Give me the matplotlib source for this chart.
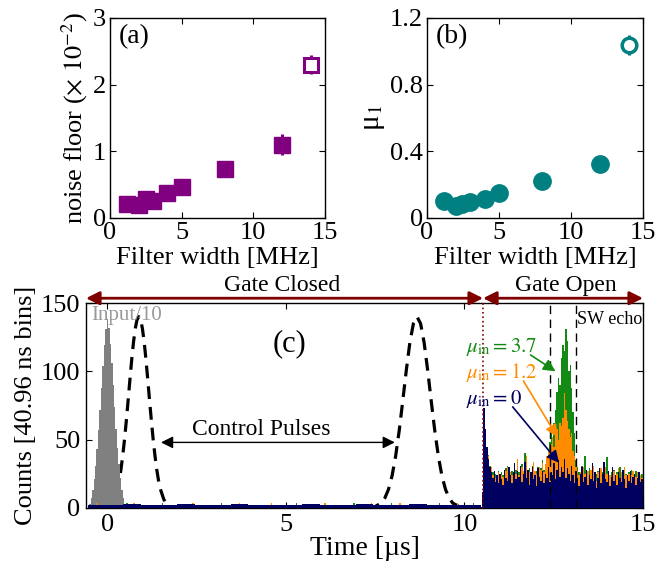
import numpy as np
import matplotlib
matplotlib.use("Agg")
import matplotlib.pyplot as plt

plt.rcParams['font.family'] = ['Liberation Serif', 'DejaVu Serif']
plt.rcParams['mathtext.fontset'] = 'stix'
plt.rcParams['xtick.direction'] = 'in'
plt.rcParams['ytick.direction'] = 'in'
plt.rcParams['xtick.top'] = True
plt.rcParams['ytick.right'] = True

# ---------------- data ----------------
# panel (a)
fw_a = [1.2, 2.0, 2.5, 3.0, 4.0, 5.0, 8.0, 12.0]
noise_a = [0.21, 0.19, 0.28, 0.26, 0.38, 0.46, 0.74, 1.10]
noise_a_err = [0.02, 0.02, 0.02, 0.02, 0.03, 0.03, 0.04, 0.16]
fw_a_open = [14.0]
noise_a_open = [2.30]
noise_a_open_err = [0.14]

# panel (b)
fw_b = [1.2, 2.0, 2.4, 3.0, 4.0, 5.0, 8.0, 12.0]
mu1_b = [0.10, 0.07, 0.085, 0.095, 0.115, 0.153, 0.225, 0.325]
fw_b_open = [14.0]
mu1_b_open = [1.04]
mu1_b_open_err = [0.06]

# panel (c)
bin_w = 0.04096
input_start = -0.512
input_counts = [3, 7, 13, 21, 31, 43, 57, 72, 88, 104, 119, 131, 138, 132,
                120, 106, 90, 74, 58, 44, 32, 22, 13, 7, 3]

pulse1_t = [-0.12, -0.02, 0.08, 0.18, 0.28, 0.33, 0.38, 0.43, 0.48, 0.53, 0.58,
            0.63, 0.68, 0.73, 0.78, 0.83, 0.88, 0.93, 0.98, 1.03, 1.08, 1.13,
            1.18, 1.23, 1.28, 1.33, 1.38, 1.43, 1.48, 1.58, 1.68, 1.78, 1.88]
pulse1_y = [0.2, 0.8, 2.4, 6.2, 14.1, 20.3, 28.4, 38.6, 50.5, 64.1, 78.8,
            93.9, 108.5, 121.3, 131.3, 137.8, 140, 137.8, 131.3, 121.3, 108.5, 93.9,
            78.8, 64.1, 50.5, 38.6, 28.4, 20.3, 14.1, 6.2, 2.4, 0.8, 0.2]
pulse2_t = [7.27, 7.47, 7.67, 7.77, 7.87, 7.97, 8.07, 8.17, 8.27, 8.37, 8.47,
            8.57, 8.67, 8.77, 8.87, 8.97, 9.07, 9.17, 9.27, 9.37, 9.47, 9.57,
            9.67, 9.87, 10.07]
pulse2_y = [0.1, 0.7, 3.6, 7.3, 13.5, 23.3, 37.6, 56.2, 78.0, 100.6, 121.0,
            135.0, 140, 135.0, 121.0, 100.6, 78.0, 56.2, 37.6, 23.3, 13.5, 7.3,
            3.6, 0.7, 0.1]

open_start = 10.445
counts_mu0 = [1, 12, 73, 58, 45, 36, 30, 26, 22, 27,
              19, 24, 18, 25, 21, 17, 28, 22, 20, 30,
              24, 18, 26, 33, 21, 27, 23, 31, 19, 25,
              34, 22, 28, 17, 26, 30, 21, 24, 16, 29,
              23, 20, 27, 18, 25, 22, 30, 19, 26, 24,
              33, 21, 28, 35, 23, 30, 26, 36, 22, 29,
              25, 20, 31, 24, 18, 27, 22, 16, 25, 30,
              19, 23, 28, 17, 24, 21, 33, 20, 26, 15,
              22, 29, 18, 25, 34, 21, 19, 27, 16, 23,
              30, 20, 24, 17, 26, 22, 19, 28, 21, 15,
              24, 20, 27, 18, 23, 25, 17, 22, 26, 19, 21]
counts_mu12 = [0, 10, 65, 55, 42, 38, 28, 30, 24, 25,
               22, 21, 26, 20, 24, 23, 25, 27, 30, 22,
               26, 24, 22, 28, 25, 36, 24, 22, 30, 27,
               23, 38, 24, 26, 22, 28, 34, 27, 25, 24,
               30, 28, 33, 26, 32, 38, 42, 40, 47, 52,
               45, 55, 58, 50, 62, 60, 66, 84, 72, 64,
               58, 52, 55, 42, 38, 30, 27, 24, 26, 22,
               30, 25, 21, 27, 24, 28, 22, 31, 25, 20,
               26, 23, 29, 22, 19, 30, 25, 20, 24, 22,
               21, 27, 23, 25, 29, 20, 26, 22, 30, 24,
               22, 25, 20, 24, 27, 21, 23, 26, 20, 24, 22]
counts_mu37 = [0, 11, 62, 57, 40, 39, 31, 27, 26, 23,
               25, 22, 27, 21, 26, 24, 22, 29, 31, 25,
               23, 27, 25, 30, 28, 24, 26, 23, 32, 26,
               40, 27, 25, 29, 24, 31, 28, 25, 27, 30,
               26, 29, 35, 28, 31, 34, 38, 48, 55, 50,
               62, 72, 85, 95, 90, 110, 119, 115, 131, 122,
               100, 105, 88, 70, 55, 35, 30, 26, 24, 31,
               25, 38, 27, 23, 29, 26, 24, 28, 22, 25,
               27, 24, 29, 26, 23, 28, 37, 25, 22, 26,
               24, 28, 23, 26, 25, 30, 24, 22, 27, 25,
               23, 26, 24, 28, 22, 25, 27, 23, 26, 24, 25]

closed_start = -0.55
closed_w = 0.5
closed_mu0 = [2, 2, 3, 2, 2, 3, 2, 2, 3, 2, 2, 2, 3, 2, 2, 3, 2, 2, 3, 2, 2, 2]
specks_green_t = [0.55, 1.55, 3.2, 5.3, 6.9, 7.95, 9.3, 10.25]
specks_green_c = [4, 4, 4, 4, 4, 4, 4, 4]
specks_orange_t = [-0.3, 0.75, 2.4, 3.7, 4.6, 6.1, 7.4, 8.2, 9.8]
specks_orange_c = [4, 4, 4, 4, 4, 4, 4, 4, 4]

gate_t = 10.52
echo_window = [12.4, 13.13]

# colours
PURPLE = '#800080'
TEAL = '#008080'
GREEN = '#138a13'
ORANGE = '#ff8c00'
NAVY = '#000060'
DARKRED = '#800000'
GRAY = '#808080'

# ---------------- figure ----------------
fig = plt.figure(figsize=(6.68, 5.63), dpi=100)
W, H = 668, 563

def axes_px(l, r, t, b):
    return fig.add_axes([l / W, 1 - b / H, (r - l) / W, (b - t) / H])

FS = 19

# panel (a)
axa = axes_px(110, 325, 18, 218)
axa.errorbar(fw_a, noise_a, yerr=noise_a_err, fmt='s', color=PURPLE, ms=12,
             elinewidth=2.2, capsize=0)
axa.errorbar(fw_a_open, noise_a_open, yerr=noise_a_open_err, fmt='s', color=PURPLE,
             mfc='white', mec=PURPLE, ms=10, mew=2.2, elinewidth=2.2, capsize=0)
axa.set_xlim(0, 15)
axa.set_ylim(0, 3)
axa.set_xticks([0, 5, 10, 15])
axa.set_yticks([0, 1, 2, 3])
axa.set_xlabel('Filter width [MHz]', fontsize=FS, labelpad=2)
axa.set_ylabel(r'noise floor ($\times\ 10^{-2}$)', fontsize=FS, labelpad=2)
axa.text(0.04, 0.97, '(a)', transform=axa.transAxes, fontsize=20, va='top', ha='left')

# panel (b)
axb = axes_px(427, 643, 18, 218)
axb.errorbar(fw_b, mu1_b, fmt='o', color=TEAL, ms=12.5)
axb.errorbar(fw_b_open, mu1_b_open, yerr=mu1_b_open_err, fmt='o', color=TEAL,
             mfc='white', mec=TEAL, ms=10.5, mew=2.5, elinewidth=2.2, capsize=0)
axb.set_xlim(0, 15)
axb.set_ylim(0, 1.2)
axb.set_xticks([0, 5, 10, 15])
axb.set_yticks([0, 0.4, 0.8, 1.2])
axb.set_yticklabels(['0', '0.4', '0.8', '1.2'])
axb.set_xlabel('Filter width [MHz]', fontsize=FS, labelpad=2)
axb.set_ylabel('μ$_1$', fontsize=FS + 2, labelpad=2)
axb.text(0.04, 0.97, '(b)', transform=axb.transAxes, fontsize=20, va='top', ha='left')

for ax in (axa, axb):
    ax.tick_params(labelsize=FS, length=4, width=0.8, pad=3)

# panel (c)
axc = axes_px(86, 643, 303, 508)
axc.set_xlim(-0.6, 15)
axc.set_ylim(0, 150)

# control pulses
axc.plot(pulse1_t, pulse1_y, ls=(0, (4, 2.5)), color='black', lw=2.3, zorder=2)
axc.plot(pulse2_t, pulse2_y, ls=(0, (4, 2.5)), color='black', lw=2.3, zorder=2)

# input / 10
in_edges = input_start + bin_w * np.arange(len(input_counts) + 1)
axc.stairs(input_counts, in_edges, fill=True, color=GRAY, zorder=3)

# gate-closed small counts
axc.bar(specks_green_t, specks_green_c, width=bin_w, color=GREEN, zorder=4)
axc.bar(specks_orange_t, specks_orange_c, width=bin_w, color=ORANGE, zorder=4)
cl_edges = closed_start + closed_w * np.arange(len(closed_mu0) + 1)
axc.stairs(closed_mu0, cl_edges, fill=True, color=NAVY, zorder=5)

# gate-open histograms
op_edges37 = open_start + bin_w * np.arange(len(counts_mu37) + 1)
op_edges12 = open_start + bin_w * np.arange(len(counts_mu12) + 1)
op_edges0 = open_start + bin_w * np.arange(len(counts_mu0) + 1)
axc.stairs(counts_mu37, op_edges37, fill=True, color=GREEN, zorder=4)
axc.stairs(counts_mu12, op_edges12, fill=True, color=ORANGE, zorder=4.5)
axc.stairs(counts_mu0, op_edges0, fill=True, color=NAVY, zorder=5)

# vertical markers
axc.axvline(gate_t, color=DARKRED, ls=':', lw=1.2, zorder=6)
for xe in echo_window:
    axc.axvline(xe, color='black', ls=(0, (6, 4)), lw=1.0, zorder=6)

axc.set_xticks([0, 5, 10, 15])
axc.set_yticks([0, 50, 100, 150])
axc.tick_params(labelsize=FS, length=4, width=0.8, pad=4)
axc.set_xlabel('Time [µs]', fontsize=FS + 1, labelpad=0)
axc.set_ylabel('Counts [40.96 ns bins]', fontsize=FS, labelpad=3)

# gate arrows
arr_y = 153.5
axc.annotate('', xy=(-0.6, arr_y), xytext=(gate_t, arr_y), xycoords='data',
             arrowprops=dict(arrowstyle='<|-|>', color=DARKRED, lw=2,
                             mutation_scale=20, shrinkA=0, shrinkB=0),
             annotation_clip=False)
axc.annotate('', xy=(gate_t, arr_y), xytext=(15, arr_y), xycoords='data',
             arrowprops=dict(arrowstyle='<|-|>', color=DARKRED, lw=2,
                             mutation_scale=20, shrinkA=0, shrinkB=0),
             annotation_clip=False)
axc.text(4.9, 155.0, 'Gate Closed', fontsize=17, ha='center', va='bottom')
axc.text(12.85, 155.0, 'Gate Open', fontsize=17, ha='center', va='bottom')

axc.text(-0.45, 147.5, 'Input/10', fontsize=15, color='#999999', ha='left', va='top')
axc.text(13.15, 144, 'SW echo', fontsize=13, ha='left', va='top')
axc.text(5.1, 120, '(c)', fontsize=22, ha='center', va='center')

# control pulses arrow
axc.annotate('', xy=(1.5, 48), xytext=(8.05, 48),
             arrowprops=dict(arrowstyle='<|-|>', color='black', lw=1,
                             mutation_scale=18, shrinkA=0, shrinkB=0))
axc.text(4.3, 49.5, 'Control Pulses', fontsize=17, ha='center', va='bottom')

# mu labels and arrows
axc.text(10.05, 114, r'$\mu_{\rm in} = 3.7$', color=GREEN, fontsize=15, ha='left', va='baseline', zorder=7)
axc.text(10.05, 95, r'$\mu_{\rm in} = 1.2$', color=ORANGE, fontsize=15, ha='left', va='baseline', zorder=7)
axc.text(10.05, 76, r'$\mu_{\rm in} = 0$', color=NAVY, fontsize=15, ha='left', va='baseline', zorder=7)
axc.annotate('', xy=(12.55, 100), xytext=(11.85, 112),
             arrowprops=dict(arrowstyle='-|>', color=GREEN, lw=1.2,
                             mutation_scale=18, shrinkA=0, shrinkB=0), zorder=8)
axc.annotate('', xy=(12.6, 52), xytext=(11.65, 93),
             arrowprops=dict(arrowstyle='-|>', color=ORANGE, lw=1.2,
                             mutation_scale=18, shrinkA=0, shrinkB=0), zorder=8)
axc.annotate('', xy=(12.65, 33), xytext=(11.35, 74),
             arrowprops=dict(arrowstyle='-|>', color=NAVY, lw=1.2,
                             mutation_scale=18, shrinkA=0, shrinkB=0), zorder=8)

for ax in (axa, axb, axc):
    for s in ax.spines.values():
        s.set_linewidth(1.0)

fig.savefig('out.png', dpi=100)
